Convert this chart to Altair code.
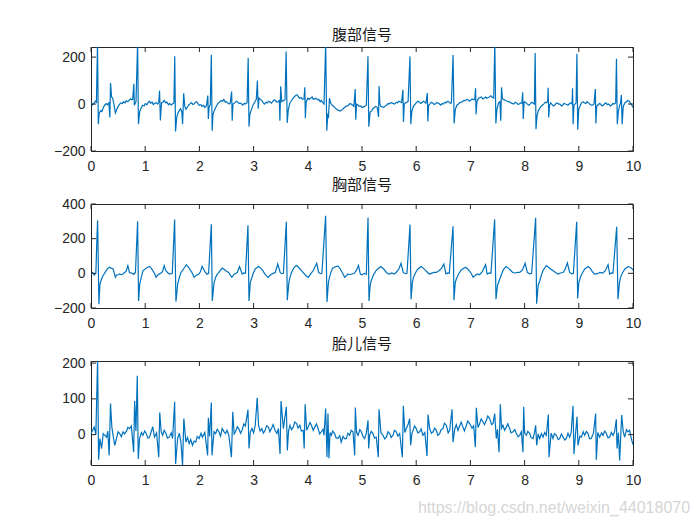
import altair as alt
import pandas as pd

# ---------------- data ----------------
xticks = [0, 1, 2, 3, 4, 5, 6, 7, 8, 9, 10]

abd_title = "腹部信号"
abd_yticks = [-200, 0, 200]
abd_ydom = [-200, 243]
abd_t = [0.00, 0.03, 0.05, 0.08, 0.10, 0.12, 0.135, 0.15, 0.18, 0.20, 0.23, 0.25, 0.28, 0.30, 0.33, 0.348, 0.36, 0.38, 0.40, 0.43,
         0.45, 0.48, 0.50, 0.53, 0.55, 0.58, 0.60, 0.63, 0.65, 0.68, 0.70, 0.73, 0.75, 0.77, 0.79, 0.80, 0.83, 0.86, 0.875, 0.90,
         0.93, 0.95, 0.98, 1.00, 1.03, 1.05, 1.08, 1.10, 1.13, 1.15, 1.18, 1.20, 1.23, 1.25, 1.265, 1.28, 1.30, 1.33, 1.35, 1.38,
         1.40, 1.43, 1.45, 1.48, 1.50, 1.53, 1.545, 1.56, 1.58, 1.60, 1.63, 1.65, 1.675, 1.69, 1.71, 1.73, 1.75, 1.78, 1.80, 1.83,
         1.85, 1.88, 1.90, 1.93, 1.95, 1.98, 2.00, 2.03, 2.05, 2.08, 2.10, 2.13, 2.155, 2.165, 2.18, 2.20, 2.22, 2.235, 2.25, 2.28,
         2.30, 2.33, 2.35, 2.38, 2.40, 2.43, 2.45, 2.48, 2.50, 2.53, 2.55, 2.57, 2.595, 2.605, 2.62, 2.65, 2.68, 2.70, 2.73, 2.75,
         2.78, 2.80, 2.83, 2.85, 2.88, 2.90, 2.915, 2.93, 2.95, 2.98, 3.00, 3.03, 3.05, 3.07, 3.085, 3.10, 3.13, 3.15, 3.18, 3.20,
         3.23, 3.25, 3.28, 3.30, 3.33, 3.35, 3.38, 3.40, 3.43, 3.45, 3.475, 3.485, 3.50, 3.52, 3.55, 3.58, 3.60, 3.62, 3.64, 3.67,
         3.70, 3.73, 3.75, 3.78, 3.80, 3.83, 3.85, 3.88, 3.90, 3.93, 3.945, 3.955, 3.97, 4.00, 4.03, 4.05, 4.08, 4.10, 4.13, 4.15,
         4.18, 4.20, 4.23, 4.25, 4.28, 4.30, 4.33, 4.35, 4.37, 4.38, 4.40, 4.42, 4.45, 4.48, 4.50, 4.53, 4.55, 4.58, 4.60, 4.63,
         4.65, 4.68, 4.70, 4.73, 4.75, 4.78, 4.80, 4.83, 4.85, 4.875, 4.885, 4.90, 4.93, 4.95, 4.98, 5.00, 5.03, 5.05, 5.08, 5.11,
         5.125, 5.15, 5.18, 5.20, 5.23, 5.25, 5.28, 5.305, 5.315, 5.33, 5.35, 5.38, 5.40, 5.43, 5.45, 5.48, 5.50, 5.53, 5.55, 5.58,
         5.60, 5.63, 5.65, 5.68, 5.70, 5.73, 5.755, 5.765, 5.78, 5.80, 5.83, 5.85, 5.885, 5.90, 5.92, 5.95, 5.98, 6.00, 6.03, 6.05,
         6.08, 6.10, 6.13, 6.15, 6.18, 6.205, 6.215, 6.23, 6.25, 6.28, 6.30, 6.33, 6.35, 6.38, 6.40, 6.43, 6.45, 6.48, 6.50, 6.53,
         6.55, 6.58, 6.60, 6.63, 6.65, 6.68, 6.70, 6.72, 6.75, 6.78, 6.80, 6.83, 6.85, 6.88, 6.90, 6.93, 6.95, 6.98, 7.00, 7.03,
         7.05, 7.08, 7.095, 7.105, 7.12, 7.15, 7.18, 7.20, 7.23, 7.25, 7.28, 7.30, 7.33, 7.35, 7.38, 7.40, 7.43, 7.45, 7.47, 7.49,
         7.52, 7.545, 7.56, 7.575, 7.59, 7.60, 7.63, 7.65, 7.68, 7.70, 7.73, 7.75, 7.78, 7.80, 7.83, 7.85, 7.88, 7.90, 7.93, 7.95,
         7.965, 7.975, 7.99, 8.00, 8.03, 8.05, 8.08, 8.10, 8.13, 8.15, 8.18, 8.195, 8.21, 8.23, 8.25, 8.28, 8.30, 8.33, 8.35, 8.38,
         8.40, 8.425, 8.435, 8.445, 8.46, 8.48, 8.50, 8.53, 8.55, 8.58, 8.60, 8.63, 8.65, 8.68, 8.70, 8.73, 8.75, 8.78, 8.80, 8.83,
         8.85, 8.875, 8.885, 8.895, 8.91, 8.93, 8.95, 8.965, 8.98, 9.00, 9.03, 9.05, 9.08, 9.10, 9.13, 9.15, 9.18, 9.20, 9.23, 9.25,
         9.28, 9.305, 9.315, 9.33, 9.35, 9.38, 9.40, 9.43, 9.45, 9.48, 9.50, 9.53, 9.55, 9.58, 9.60, 9.63, 9.65, 9.68, 9.695, 9.71,
         9.73, 9.75, 9.77, 9.785, 9.80, 9.82, 9.85, 9.88, 9.90, 9.93, 9.95, 9.98, 10.0]
abd_v = [5, -3, 2, 12, 8, 260, -86, -40, -28, -32, -15, -5, 2, -3, 5, -57, 90, 30, 25, -10,
         -38, -20, -10, 0, 5, 2, 10, 5, 14, 10, 16, 22, 18, 20, 86, -5, 10, 260, -86, -30,
         -15, -5, -8, 2, -3, 6, 12, 4, 8, -2, 3, 6, 0, 10, 57, -70, 5, 8, 16, 5,
         8, -3, 2, -4, 0, 5, 204, -117, -60, -40, -28, -20, -30, -86, 46, -10, -22, -12, -5, 2,
         6, -2, 0, 8, 10, 0, -5, -3, -10, -6, -15, -8, 36, -64, -10, -5, 210, -114, -45, -25,
         -15, -2, 5, 10, 15, 12, 20, 8, 10, 3, 0, 5, 53, -71, 0, 5, 12, 10, 2, 5,
         0, -5, 3, 0, 6, 196, -96, -45, -30, -10, 0, 12, 20, 100, -20, 25, 20, 15, 5, 0,
         8, 5, 12, 10, 4, 10, 18, 15, 8, 10, 15, -71, 76, 10, 15, 18, 224, -80, -25, 5,
         15, 25, 30, 38, 40, 30, 25, 28, 20, 22, 71, -60, 10, 25, 20, 25, 30, 20, 22, 25,
         18, 20, 10, 15, 5, 0, 260, -114, -40, -60, 25, 5, -5, -10, -15, -22, -25, -28, -30, -25,
         -20, -15, -10, -8, -5, 2, 0, -5, -10, 64, -67, 0, -5, -10, -8, -15, -12, -10, -5, 204,
         -97, -35, -28, -20, -15, -10, -14, -55, 77, 0, -10, -12, -15, -8, -5, 2, 0, 6, 5, 2,
         0, 8, 5, 12, 10, 6, 61, -76, 0, 5, 8, 10, 203, -86, -30, -10, 0, 5, 12, 10,
         3, 5, 12, 10, 4, 47, -74, -5, 0, 8, 5, -2, 0, 6, 5, 0, -5, 2, 0, 8,
         5, 12, 10, 3, 5, 209, -83, -25, -5, 0, 5, 8, 10, 16, 15, 18, 20, 12, 15, 22,
         20, 18, 67, -43, 10, 25, 28, 30, 22, 25, 30, 25, 28, 30, 35, 30, 25, 260, -83, -20,
         5, 10, -71, 71, 25, 20, 18, 15, 12, 10, 8, 5, 2, 0, 8, 5, -2, 0, 5, 3,
         50, -64, 5, 10, 5, 0, -5, 0, 8, 5, 0, 217, -107, -50, -30, -18, -10, -5, 0, 8,
         5, 10, 69, -57, -5, 5, 0, -8, -5, 2, 5, 0, 0, -8, -5, 3, 0, -2, -5, 2,
         5, 0, 67, -86, -5, 0, 5, 214, -109, -20, -5, 5, 10, 5, 2, 10, 5, 0, -5, -5,
         0, 64, -83, -10, -5, 2, 0, -8, -5, 2, 5, -3, 0, -8, -5, 2, 0, 5, 193, -86,
         -30, -10, 5, 39, -86, -10, 5, 10, 15, 12, 5, -5, -15]

tho_title = "胸部信号"
tho_yticks = [-200, 0, 200, 400]
tho_ydom = [-200, 400]
tho_t = [0.00, 0.03, 0.06, 0.09, 0.11, 0.122, 0.146, 0.165, 0.195, 0.22, 0.25, 0.28, 0.31, 0.34, 0.37, 0.41, 0.45, 0.47, 0.50, 0.53,
         0.56, 0.59, 0.62, 0.65, 0.68, 0.71, 0.76, 0.79, 0.82, 0.86, 0.878, 0.90, 0.93, 0.96, 0.99, 1.02, 1.05, 1.08, 1.11, 1.14,
         1.17, 1.20, 1.23, 1.26, 1.29, 1.32, 1.35, 1.38, 1.42, 1.45, 1.50, 1.543, 1.567, 1.60, 1.63, 1.66, 1.69, 1.73, 1.76, 1.80,
         1.84, 1.87, 1.90, 1.94, 1.99, 2.02, 2.05, 2.11, 2.14, 2.17, 2.22, 2.238, 2.27, 2.30, 2.33, 2.36, 2.39, 2.42, 2.46, 2.50,
         2.54, 2.57, 2.60, 2.64, 2.70, 2.74, 2.79, 2.82, 2.85, 2.896, 2.915, 2.94, 2.97, 3.00, 3.03, 3.06, 3.09, 3.13, 3.17, 3.21,
         3.24, 3.27, 3.31, 3.36, 3.40, 3.445, 3.49, 3.52, 3.55, 3.604, 3.622, 3.65, 3.67, 3.70, 3.73, 3.76, 3.79, 3.83, 3.87, 3.90,
         3.94, 3.97, 4.01, 4.05, 4.10, 4.165, 4.20, 4.23, 4.26, 4.329, 4.354, 4.38, 4.40, 4.43, 4.46, 4.51, 4.555, 4.60, 4.65, 4.68,
         4.71, 4.74, 4.77, 4.81, 4.86, 4.90, 4.935, 4.97, 5.00, 5.04, 5.08, 5.111, 5.129, 5.15, 5.17, 5.21, 5.26, 5.30, 5.35, 5.40,
         5.45, 5.48, 5.51, 5.55, 5.59, 5.63, 5.68, 5.72, 5.76, 5.80, 5.83, 5.886, 5.905, 5.93, 5.95, 5.99, 6.03, 6.06, 6.09, 6.13,
         6.18, 6.21, 6.24, 6.28, 6.33, 6.37, 6.42, 6.47, 6.51, 6.55, 6.58, 6.61, 6.68, 6.697, 6.72, 6.74, 6.78, 6.83, 6.87, 6.91,
         6.95, 6.99, 7.02, 7.05, 7.09, 7.13, 7.17, 7.22, 7.28, 7.31, 7.35, 7.38, 7.447, 7.472, 7.50, 7.53, 7.57, 7.60, 7.63, 7.66,
         7.70, 7.74, 7.78, 7.82, 7.87, 7.91, 7.96, 8.01, 8.05, 8.09, 8.13, 8.204, 8.222, 8.25, 8.28, 8.31, 8.34, 8.37, 8.40, 8.44,
         8.48, 8.52, 8.57, 8.62, 8.66, 8.71, 8.75, 8.79, 8.83, 8.87, 8.90, 8.961, 8.979, 9.00, 9.03, 9.07, 9.11, 9.14, 9.17, 9.21,
         9.25, 9.29, 9.34, 9.39, 9.44, 9.49, 9.54, 9.57, 9.60, 9.63, 9.699, 9.723, 9.75, 9.77, 9.81, 9.85, 9.88, 9.91, 9.94, 9.97,
         10.0]
tho_v = [-5, 5, -10, 0, 210, 305, -178, -62, -33, -14, 0, 16, 28, 35, 30, 25, -23, -10, -8, -4,
         -8, -4, 5, 12, 45, 5, 0, -6, 5, 300, -160, -62, -20, 16, 22, 30, 35, 40, 30, 16,
         0, -23, -10, -4, 2, 10, 45, 16, 2, -4, 0, 310, -163, -60, -23, 5, 19, 35, 50, 35,
         16, 0, -23, -12, -4, 10, 40, 5, -5, 0, 283, -160, -55, -23, -5, 5, 18, 30, 22, 12,
         5, -10, -23, -5, 5, 39, -4, 2, 0, 277, -160, -50, -23, 5, 25, 32, 39, 30, 15, -4,
         -15, -23, -10, 0, 5, 54, 5, -2, 0, 297, -155, -55, -23, 5, 25, 38, 45, 35, 20, 10,
         -4, -15, -23, -5, 16, 58, 5, -2, 0, 332, -165, -55, -23, 10, 31, 38, 43, 25, -4, -23,
         -15, -4, -8, -4, 0, 20, 45, -4, -8, 0, -5, 322, -160, -70, -43, -10, 16, 28, 39, 25,
         5, -2, -4, 2, -4, 5, 25, 58, 5, -2, 0, 281, -149, -50, -23, 5, 25, 32, 39, 30,
         16, 5, -4, 0, 5, 5, 15, 30, 54, -4, 2, 0, 272, -155, -55, -33, -5, 19, 28, 35,
         25, 10, -4, -23, -12, -4, -8, 10, 50, -4, 2, 0, 312, -149, -70, -43, -10, 16, 30, 39,
         30, 18, 5, 2, 5, 5, 20, 58, 5, -3, 0, 320, -175, -70, -43, -10, 16, 30, 45, 35,
         25, 16, 5, -4, 2, 5, 25, 60, 5, -3, 0, 297, -145, -55, -23, 5, 25, 32, 39, 30,
         10, -4, -2, 5, 2, 15, 50, -4, 2, 0, 268, -149, -55, -23, 5, 25, 32, 39, 35, 31,
         19]

fet_title = "胎儿信号"
fet_yticks = [0, 100, 200]
fet_ydom = [-85, 206]
fet_t = [0.00, 0.03, 0.06, 0.09, 0.122, 0.140, 0.165, 0.195, 0.226, 0.256, 0.287, 0.31, 0.335, 0.360, 0.384, 0.41, 0.439, 0.470, 0.50, 0.530,
         0.56, 0.591, 0.62, 0.652, 0.68, 0.713, 0.744, 0.787, 0.805, 0.829, 0.854, 0.872, 0.896, 0.93, 0.957, 0.99, 1.018, 1.05, 1.079, 1.11,
         1.140, 1.171, 1.21, 1.250, 1.268, 1.295, 1.323, 1.35, 1.384, 1.41, 1.445, 1.48, 1.506, 1.543, 1.561, 1.598, 1.63, 1.659, 1.689, 1.713,
         1.750, 1.78, 1.811, 1.84, 1.872, 1.90, 1.933, 1.96, 1.994, 2.03, 2.055, 2.10, 2.152, 2.165, 2.189, 2.220, 2.232, 2.27, 2.299, 2.33,
         2.360, 2.39, 2.421, 2.45, 2.482, 2.51, 2.543, 2.591, 2.616, 2.64, 2.665, 2.70, 2.726, 2.76, 2.787, 2.82, 2.848, 2.896, 2.915, 2.94,
         2.970, 3.00, 3.030, 3.067, 3.091, 3.12, 3.152, 3.18, 3.213, 3.24, 3.274, 3.30, 3.335, 3.36, 3.396, 3.43, 3.457, 3.488, 3.506, 3.549,
         3.604, 3.622, 3.645, 3.671, 3.70, 3.732, 3.76, 3.793, 3.82, 3.854, 3.88, 3.915, 3.933, 3.951, 3.98, 4.006, 4.04, 4.067, 4.10, 4.128,
         4.16, 4.189, 4.22, 4.250, 4.28, 4.299, 4.329, 4.354, 4.372, 4.390, 4.41, 4.433, 4.46, 4.494, 4.52, 4.555, 4.59, 4.616, 4.65, 4.677,
         4.711, 4.74, 4.772, 4.80, 4.834, 4.865, 4.877, 4.90, 4.926, 4.96, 4.988, 5.02, 5.049, 5.08, 5.111, 5.123, 5.141, 5.17, 5.203, 5.23,
         5.264, 5.301, 5.314, 5.35, 5.387, 5.42, 5.449, 5.48, 5.510, 5.54, 5.572, 5.60, 5.633, 5.66, 5.695, 5.744, 5.763, 5.79, 5.818, 5.85,
         5.879, 5.898, 5.92, 5.941, 5.97, 6.002, 6.03, 6.064, 6.09, 6.125, 6.16, 6.199, 6.218, 6.248, 6.28, 6.310, 6.34, 6.371, 6.40, 6.433,
         6.46, 6.494, 6.52, 6.556, 6.59, 6.617, 6.661, 6.679, 6.71, 6.740, 6.77, 6.802, 6.83, 6.863, 6.89, 6.925, 6.95, 6.986, 7.03, 7.06,
         7.091, 7.109, 7.14, 7.171, 7.20, 7.232, 7.26, 7.294, 7.32, 7.355, 7.39, 7.417, 7.448, 7.478, 7.50, 7.528, 7.552, 7.575, 7.601, 7.63,
         7.663, 7.69, 7.724, 7.75, 7.786, 7.82, 7.847, 7.88, 7.909, 7.94, 7.970, 7.983, 8.00, 8.032, 8.06, 8.094, 8.12, 8.155, 8.18, 8.204,
         8.223, 8.25, 8.278, 8.31, 8.340, 8.37, 8.401, 8.438, 8.450, 8.49, 8.524, 8.55, 8.586, 8.62, 8.647, 8.68, 8.709, 8.74, 8.770, 8.80,
         8.832, 8.86, 8.893, 8.911, 8.94, 8.967, 8.985, 9.02, 9.047, 9.08, 9.108, 9.14, 9.170, 9.20, 9.231, 9.27, 9.311, 9.323, 9.35, 9.385,
         9.42, 9.447, 9.48, 9.508, 9.54, 9.569, 9.60, 9.631, 9.66, 9.693, 9.705, 9.73, 9.754, 9.791, 9.82, 9.846, 9.88, 9.908, 9.938, 9.969,
         10.0]
fet_v = [3, 12, 21, 0, 214, -70, -11, -39, 3, -2, -7, 10, -58, 87, 22, -5, -30, -11, 8, 3,
         -6, 8, 2, 9, 20, 17, 24, -49, 94, 10, 165, -68, -11, 6, -2, 10, 3, -10, -7, 8,
         22, -7, 5, -63, 62, 8, -2, 12, 3, -10, -7, 5, -11, 92, -82, -11, 4, -21, -86, 45,
         -21, -8, -25, -14, -30, -18, -21, -5, -11, 4, -7, 6, -58, 47, -5, 90, -58, 8, 3, 15,
         8, -4, 17, 9, 3, 12, -2, -63, 64, 2, 8, 22, 17, 4, 12, 30, 24, 70, -39, 8,
         17, 5, 26, 103, 26, 10, 17, 4, 12, 25, 21, 8, 19, 28, 12, 3, 17, -54, 94, 17,
         78, -44, 10, 26, 14, 21, 35, 31, 18, 26, 10, 12, -39, 85, 12, 21, 34, 26, 12, 21,
         30, 17, 2, 8, 15, -2, 73, -63, 59, -66, 6, -2, 10, 3, -8, -11, -3, -21, -5, -11,
         -11, 4, -2, 12, 8, -58, 76, 6, -2, 14, 8, -6, -11, 5, 40, -39, -2, 9, 3, -10,
         -7, -63, 71, 5, -2, -12, -7, 8, 3, -8, -2, 12, 8, -4, 3, -63, 81, 6, 17, 28,
         45, -30, 2, 12, 24, 17, 5, 8, 16, -2, 6, -60, 56, 17, 4, 8, 18, 12, -2, 3,
         14, 17, 32, 26, 5, 12, 71, -21, 15, 28, 12, 24, 35, 21, 10, 26, 38, 31, 18, 25,
         -35, 75, 20, 31, 44, 36, 28, 40, 52, 45, 28, 31, 59, -11, 15, -49, 85, 18, 26, 12,
         21, 30, 17, 5, 8, 14, 3, -6, -2, 8, -49, 78, 5, -2, 9, 3, -8, -11, 4, 26,
         -30, 2, -11, 3, -7, 6, -2, 56, -63, 4, -11, 3, -2, -14, -11, 2, -7, -15, -11, 4,
         -7, 6, 81, -54, 2, 50, -30, -4, -7, 8, -2, 9, 3, -12, -11, 4, 59, -70, 6, -7,
         5, -2, 10, 3, -9, -7, 6, -2, 8, 43, -39, 5, -72, 55, 8, -7, 14, 8, 12, -11,
         -28]

watermark = "https://blog.csdn.net/weixin_44018070"

# ---------------- styling ----------------
W, H = 542, 104
LINE = "#0072BD"
AX = "#262626"
xscale = alt.Scale(domain=[0, 10], nice=False, zero=False)
xaxis = alt.Axis(values=xticks, ticks=False, domain=False, grid=False, labelFlush=False,
                 labelOverlap=False, labelPadding=8, format="d", title=None)


def panel(title, t, v, ydom, yticks, extra=None):
    df = pd.DataFrame({"t": t, "v": v})
    yscale = alt.Scale(domain=ydom, nice=False, zero=False)
    yaxis = alt.Axis(values=yticks, ticks=False, domain=False, grid=False, labelFlush=False,
                     labelOverlap=False, labelPadding=6, format="d", title=None)
    line = alt.Chart(df).mark_line(color=LINE, strokeWidth=1.2, clip=True).encode(
        x=alt.X("t:Q", scale=xscale, axis=xaxis),
        y=alt.Y("v:Q", scale=yscale, axis=yaxis),
    )
    xt = pd.DataFrame({"x": xticks})
    yt = pd.DataFrame({"y": yticks})
    xb = alt.Chart(xt).mark_rule(color=AX, strokeWidth=1).encode(
        x=alt.X("x:Q", scale=xscale, axis=xaxis), y=alt.value(H), y2=alt.value(H - 5))
    xtp = alt.Chart(xt).mark_rule(color=AX, strokeWidth=1).encode(
        x=alt.X("x:Q", scale=xscale, axis=xaxis), y=alt.value(0), y2=alt.value(5))
    yl = alt.Chart(yt).mark_rule(color=AX, strokeWidth=1).encode(
        y=alt.Y("y:Q", scale=yscale, axis=yaxis), x=alt.value(0), x2=alt.value(5))
    yr = alt.Chart(yt).mark_rule(color=AX, strokeWidth=1).encode(
        y=alt.Y("y:Q", scale=yscale, axis=yaxis), x=alt.value(W - 5), x2=alt.value(W))
    layers = [line, xb, xtp, yl, yr]
    if extra is not None:
        layers.append(extra)
    return alt.layer(*layers).properties(
        width=W, height=H,
        title=alt.TitleParams(title, fontSize=15, font="Noto Sans CJK SC",
                              fontWeight="normal", color="#1a1a1a", offset=4,
                              anchor="middle"))


wm = alt.Chart(alt.Data(values=[{"s": watermark}])).mark_text(
    font="Liberation Sans", fontSize=16, color="#d6d6d6", align="center", baseline="middle"
).encode(text="s:N", x=alt.value(463), y=alt.value(147))

p1 = panel(abd_title, abd_t, abd_v, abd_ydom, abd_yticks)
p2 = panel(tho_title, tho_t, tho_v, tho_ydom, tho_yticks)
p3 = panel(fet_title, fet_t, fet_v, fet_ydom, fet_yticks, extra=wm)

chart = alt.vconcat(p1, p2, p3, spacing=53, bounds="flush").properties(
    padding={"left": 44, "top": 19, "right": 0, "bottom": 0},
    background="white",
).configure_view(stroke=AX, strokeWidth=1).configure_axis(
    labelFont="Liberation Sans", labelFontSize=14, labelColor=AX
)

chart.save("out.html", embed_options={"renderer": "svg", "actions": False})
